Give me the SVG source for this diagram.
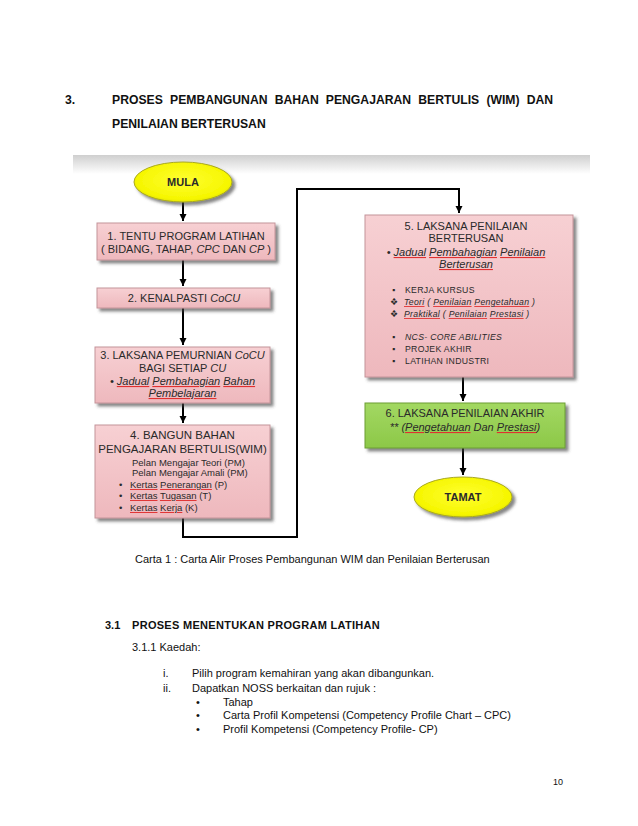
<svg xmlns="http://www.w3.org/2000/svg" width="638" height="826" viewBox="0 0 638 826">
<style>
text{font-family:"Liberation Sans",Arial,sans-serif;fill:#111}
.h{font-size:12.2px;font-weight:bold}
.bx{font-size:11px;fill:#2a2a2a;text-anchor:middle}
.sm{font-size:9.5px;fill:#2a2a2a}
.xs{font-size:8.7px;fill:#2a2a2a;letter-spacing:0.3px}
.it{font-style:italic}
.sq{text-decoration:underline;fill:#e03030}
.k{fill:#2a2a2a}
.body{font-size:11px}
.b{font-weight:bold}
.pink{fill:url(#gp);stroke:#c4949a;stroke-width:1}
.green{fill:url(#gg);stroke:#6c9e34;stroke-width:1}
.yel{fill:url(#gy);stroke:#a8a820;stroke-width:1}
.con{fill:none;stroke:#000;stroke-width:2}
</style>
<defs>
<linearGradient id="gp" x1="0" y1="0" x2="0" y2="1"><stop offset="0" stop-color="#f7d0d3"/><stop offset="1" stop-color="#eeb8bd"/></linearGradient>
<linearGradient id="gg" x1="0" y1="0" x2="0" y2="1"><stop offset="0" stop-color="#a3d862"/><stop offset="1" stop-color="#8cc848"/></linearGradient>
<radialGradient id="gy" cx="0.5" cy="0.45" r="0.6"><stop offset="0" stop-color="#ffff30"/><stop offset="0.8" stop-color="#f6f600"/><stop offset="1" stop-color="#dcdc00"/></radialGradient>
<linearGradient id="band" x1="0" y1="0" x2="0" y2="1"><stop offset="0" stop-color="#cfcfcf"/><stop offset="1" stop-color="#ffffff"/></linearGradient>
<filter id="sh" x="-10%" y="-10%" width="130%" height="150%"><feDropShadow dx="3" dy="3" stdDeviation="1.5" flood-color="#444" flood-opacity="0.65"/></filter>
<marker id="ah" markerUnits="userSpaceOnUse" markerWidth="8" markerHeight="8" refX="7" refY="4" orient="auto"><path d="M0,0.5 L7,4 L0,7.5 Z" fill="#000"/></marker>
</defs>
<rect width="638" height="826" fill="#fff"/>

<g id="title">
<text class="h" x="65" y="104">3.</text>
<text class="h" y="104"><tspan x="112">PROSES</tspan><tspan x="170">PEMBANGUNAN</tspan><tspan x="274.7">BAHAN</tspan><tspan x="325.8">PENGAJARAN</tspan><tspan x="418.3">BERTULIS</tspan><tspan x="486.4">(WIM)</tspan><tspan x="526.7">DAN</tspan></text>
<text class="h" x="112" y="128">PENILAIAN BERTERUSAN</text>
</g>

<rect x="73" y="155" width="517" height="19" fill="url(#band)"/>

<g id="connectors">
<path class="con" d="M183,202 V221" marker-end="url(#ah)"/>
<path class="con" d="M183,260 V286" marker-end="url(#ah)"/>
<path class="con" d="M183,308 V345" marker-end="url(#ah)"/>
<path class="con" d="M183,403 V423" marker-end="url(#ah)"/>
<path class="con" d="M183,518 V537 H297 V189 H459 V213" marker-end="url(#ah)"/>
<path class="con" d="M463,377 V401" marker-end="url(#ah)"/>
<path class="con" d="M463,448 V475" marker-end="url(#ah)"/>
</g>

<g id="mula">
<ellipse class="yel" cx="183" cy="182" rx="49" ry="20" filter="url(#sh)"/>
<text class="bx b" x="183" y="186">MULA</text>
</g>

<g id="n1">
<rect class="pink" x="97" y="223" width="178" height="37" filter="url(#sh)"/>
<text class="bx" x="186" y="240">1. TENTU PROGRAM LATIHAN</text>
<text class="bx" x="186" y="253">( BIDANG, TAHAP, <tspan class="it">CPC</tspan> DAN <tspan class="it">CP</tspan> )</text>
</g>

<g id="n2">
<rect class="pink" x="97" y="288" width="173" height="20" filter="url(#sh)"/>
<text class="bx" x="184" y="302">2. KENALPASTI <tspan class="it">CoCU</tspan></text>
</g>

<g id="n3">
<rect class="pink" x="95" y="347" width="175" height="56" filter="url(#sh)"/>
<text class="bx" x="182.5" y="359">3. LAKSANA PEMURNIAN <tspan class="it">CoCU</tspan></text>
<text class="bx" x="182.5" y="372">BAGI SETIAP <tspan class="it">CU</tspan></text>
<text class="bx it" x="182.5" y="385">• <tspan class="sq"><tspan class="k">Jadual</tspan></tspan> <tspan class="sq"><tspan class="k">Pembahagian</tspan></tspan> <tspan class="sq"><tspan class="k">Bahan</tspan></tspan></text>
<text class="bx it" x="182.5" y="397"><tspan class="sq"><tspan class="k">Pembelajaran</tspan></tspan></text>
</g>

<g id="n4">
<rect class="pink" x="95" y="425" width="175" height="93" filter="url(#sh)"/>
<text class="bx" x="182.5" y="439" style="font-size:11.5px">4. BANGUN BAHAN</text>
<text class="bx" x="182.5" y="453" style="font-size:11.5px">PENGAJARAN BERTULIS(WIM)</text>
<text class="sm" x="132" y="466">Pelan Mengajar Teori (PM)</text>
<text class="sm" x="132" y="476">Pelan Mengajar Amali  (PM)</text>
<text class="sm" x="119" y="488">•</text><text class="sm" x="130" y="488"><tspan class="sq"><tspan class="k">Kertas</tspan></tspan> <tspan class="sq"><tspan class="k">Penerangan</tspan></tspan> (P)</text>
<text class="sm" x="119" y="499">•</text><text class="sm" x="130" y="499"><tspan class="sq"><tspan class="k">Kertas</tspan></tspan> <tspan class="sq"><tspan class="k">Tugasan</tspan></tspan> (T)</text>
<text class="sm" x="119" y="511">•</text><text class="sm" x="130" y="511"><tspan class="sq"><tspan class="k">Kertas</tspan></tspan> <tspan class="sq"><tspan class="k">Kerja</tspan></tspan> (K)</text>
</g>

<g id="n5">
<rect class="pink" x="365" y="215" width="208" height="162" filter="url(#sh)"/>
<text class="bx" x="466" y="230">5. LAKSANA PENILAIAN</text>
<text class="bx" x="466" y="242">BERTERUSAN</text>
<text class="bx it" x="466" y="256">•  <tspan class="sq"><tspan class="k">Jadual</tspan></tspan> <tspan class="sq"><tspan class="k">Pembahagian</tspan></tspan> <tspan class="sq"><tspan class="k">Penilaian</tspan></tspan></text>
<text class="bx it" x="466" y="268"><tspan class="sq"><tspan class="k">Berterusan</tspan></tspan></text>
<text class="xs" x="392" y="293">▪</text><text class="xs" x="405" y="293">KERJA KURSUS</text>
<text class="xs" x="390" y="305">❖</text><text class="xs it" x="404" y="305"><tspan class="sq"><tspan class="k">Teori</tspan></tspan> ( <tspan class="sq"><tspan class="k">Penilaian</tspan></tspan>  <tspan class="sq"><tspan class="k">Pengetahuan</tspan></tspan>  )</text>
<text class="xs" x="390" y="317">❖</text><text class="xs it" x="404" y="317"><tspan class="sq"><tspan class="k">Praktikal</tspan></tspan> ( <tspan class="sq"><tspan class="k">Penilaian</tspan></tspan>  <tspan class="sq"><tspan class="k">Prestasi</tspan></tspan> )</text>
<text class="xs" x="392" y="340">▪</text><text class="xs it" x="405" y="340">NCS- CORE  ABILITIES</text>
<text class="xs" x="392" y="352">▪</text><text class="xs" x="405" y="352">PROJEK AKHIR</text>
<text class="xs" x="392" y="364">▪</text><text class="xs" x="405" y="364">LATIHAN  INDUSTRI</text>
</g>

<g id="n6">
<rect class="green" x="365" y="403" width="200" height="45" filter="url(#sh)"/>
<text class="bx" x="465" y="417">6. LAKSANA PENILAIAN AKHIR</text>
<text class="bx it" x="465" y="431">** (<tspan class="sq"><tspan class="k">Pengetahuan</tspan></tspan> Dan <tspan class="sq"><tspan class="k">Prestasi</tspan></tspan>)</text>
</g>

<g id="tamat">
<ellipse class="yel" cx="463" cy="497" rx="49" ry="20" filter="url(#sh)"/>
<text class="bx b" x="463" y="501">TAMAT</text>
</g>

<g id="body">
<text class="body" x="135" y="563">Carta 1 : Carta Alir Proses Pembangunan WIM dan Penilaian Berterusan</text>
<text class="body b" x="105" y="629">3.1</text>
<text class="body b" x="132" y="629" style="letter-spacing:0.3px">PROSES MENENTUKAN PROGRAM LATIHAN</text>
<text class="body" x="132" y="651">3.1.1 Kaedah:</text>
<text class="body" x="163" y="677">i.</text>
<text class="body" x="192" y="677">Pilih program kemahiran yang akan dibangunkan.</text>
<text class="body" x="163" y="692">ii.</text>
<text class="body" x="192" y="692">Dapatkan NOSS berkaitan dan rujuk :</text>
<text class="body" x="196" y="706">•</text><text class="body" x="223" y="706">Tahap</text>
<text class="body" x="196" y="719">•</text><text class="body" x="223" y="719">Carta Profil Kompetensi (Competency Profile Chart – CPC)</text>
<text class="body" x="196" y="733">•</text><text class="body" x="223" y="733">Profil Kompetensi (Competency Profile- CP)</text>
<text x="553" y="785" style="font-size:9px">10</text>
</g>
</svg>
